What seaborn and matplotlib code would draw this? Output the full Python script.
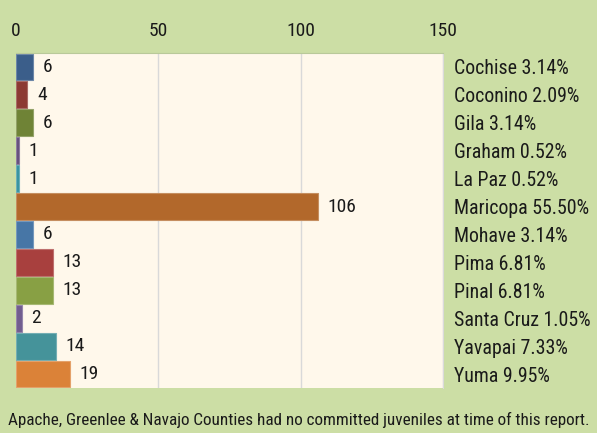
import matplotlib
matplotlib.use("Agg")
import matplotlib.pyplot as plt
import seaborn as sns
import pandas as pd

counties = ["Cochise", "Coconino", "Gila", "Graham", "La Paz", "Maricopa",
            "Mohave", "Pima", "Pinal", "Santa Cruz", "Yavapai", "Yuma"]
counts = [6, 4, 6, 1, 1, 106, 6, 13, 13, 2, 14, 19]
percents = ["3.14%", "2.09%", "3.14%", "0.52%", "0.52%", "55.50%",
            "3.14%", "6.81%", "6.81%", "1.05%", "7.33%", "9.95%"]
colors = ["#3B5E8A", "#8C3A33", "#6F8336", "#65507E", "#3894A0", "#B2682B",
          "#4776A6", "#A8403E", "#88A044", "#725D8F", "#45939A", "#DB8238"]
xticks = [0, 50, 100, 150]
note = "Apache, Greenlee & Navajo Counties had no committed juveniles at time of this report."

sns.set_style("white")
plt.rcParams['font.family'] = ['Roboto Condensed', 'DejaVu Sans']

df = pd.DataFrame({"county": counties, "count": counts})

fig = plt.figure(figsize=(5.97, 4.33), dpi=100)
fig.patch.set_facecolor("#CCDEA5")
ax = fig.add_axes([16/597, 1-388/433, (443-16)/597, (388-53)/433])
ax.set_facecolor("#FFF8EB")

sns.barplot(data=df, y="county", x="count", hue="county", palette=colors,
            orient="h", width=0.96, legend=False, ax=ax, saturation=1,
            linewidth=0.8)
for p in ax.patches:
    fc = matplotlib.colors.to_rgb(p.get_facecolor())
    ec = tuple(c + (1 - c) * 0.25 for c in fc)
    p.set_edgecolor(ec)

ax.set_xlim(0, 150)
ax.set_ylim(len(counties) - 0.5, -0.5)
ax.set_xticks(xticks)
ax.xaxis.tick_top()
ax.tick_params(axis="x", length=0, labelsize=14, pad=9, labelcolor="#1a1a1a")
ax.yaxis.tick_right()
ax.set_yticks(range(len(counties)))
ax.set_yticklabels([f"{c} {p}" for c, p in zip(counties, percents)])
ax.tick_params(axis="y", length=0, labelsize=14.3, pad=8, labelcolor="#1a1a1a")
ax.set_xlabel("")
ax.set_ylabel("")
ax.grid(axis="x", color="#D9D9D9", linewidth=1)
ax.set_axisbelow(True)
for s in ["left", "bottom"]:
    ax.spines[s].set_visible(False)
ax.spines["top"].set_color("#B9C99A")
ax.spines["right"].set_color("#DADADA")

for i, v in enumerate(counts):
    ax.annotate(str(v), (v, i), xytext=(7, 0), textcoords="offset points",
                va="center", ha="left", fontsize=14, color="#1a1a1a")

fig.text(0.5, 1-420/433, note, ha="center", va="center", fontsize=12.3, color="#1a1a1a")

fig.savefig("out.png", dpi=100, facecolor=fig.get_facecolor())
